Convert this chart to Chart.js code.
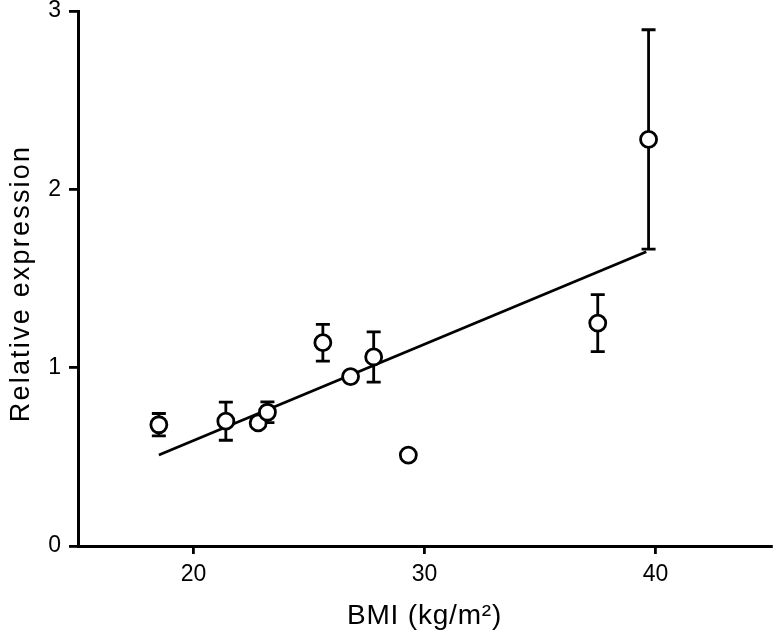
<!DOCTYPE html>
<html>
<head>
<meta charset="utf-8">
<script src="https://cdn.jsdelivr.net/npm/chart.js@4.4.1/dist/chart.umd.min.js"></script>
<style>
html, body { margin:0; padding:0; background:#fff; }
#wrap { width:774px; height:633px; }
</style>
</head>
<body>
<div id="wrap"><canvas id="bmiChart" width="774" height="633"></canvas></div>
<script>

/* data */
let bmiValues  = [18.5, 21.4, 22.8, 23.2, 25.6, 26.8, 27.8, 29.3, 37.5, 39.7];
let exprValues = [0.68, 0.70, 0.69, 0.75, 1.14, 0.95, 1.06, 0.51, 1.25, 2.28];
/* error (0 = no bar) */
let exprErrors = [0.063, 0.107, 0, 0.058, 0.103, 0, 0.141, 0, 0.16, 0.615];

/* regression line, two end points */
let fitX = [18.5, 39.6];
let fitY = [0.51, 1.65];

let xTicks = [20, 30, 40];
let yTicks = [0, 1, 2, 3];

let fontName = "'Liberation Sans', Arial, sans-serif";

/* error bars behind the open circles */
const errorBars = {

   id: "errorBars",

   beforeDatasetsDraw(chart){

      let ctx = chart.ctx;
      let xs = chart.scales.x;
      let ys = chart.scales.y;

      ctx.save();
      ctx.strokeStyle = "#000";
      ctx.lineWidth = 2.8;

      bmiValues.forEach(function(b, i){

         let err = exprErrors[i];

         if(!err) return;

         let px = xs.getPixelForValue(b);
         let top = ys.getPixelForValue(exprValues[i] + err);
         let bot = ys.getPixelForValue(exprValues[i] - err);

         ctx.beginPath();
         ctx.moveTo(px, top);
         ctx.lineTo(px, bot);
         ctx.moveTo(px - 7, top);
         ctx.lineTo(px + 7, top);
         ctx.moveTo(px - 7, bot);
         ctx.lineTo(px + 7, bot);
         ctx.stroke();

      });

      ctx.restore();

   }

};

/* the original titles are set a little wider than plain Arial */
function spreadTitle(scale, spacing, dx, dy){

   if(scale._spread) return;

   let orig = scale.drawTitle;

   scale.drawTitle = function(){
      this.ctx.save();
      this.ctx.letterSpacing = spacing;
      this.ctx.translate(dx, dy);
      orig.call(this);
      this.ctx.restore();
   };

   scale._spread = true;

}

let ctx = document.getElementById("bmiChart").getContext("2d");

new Chart(ctx, {

   type: "scatter",

   data: {

      datasets: [

         {
            type: "scatter",
            data: bmiValues.map((b, i) => ({ x: b, y: exprValues[i] })),
            pointRadius: 8,
            pointHoverRadius: 8,
            pointBackgroundColor: "#fff",
            pointBorderColor: "#000",
            pointBorderWidth: 2.8,
            order: 0
         },

         {
            type: "line",
            data: fitX.map((x, i) => ({ x: x, y: fitY[i] })),
            borderColor: "#000",
            borderWidth: 2.8,
            pointRadius: 0,
            fill: false,
            order: 1
         }

      ]

   },

   options: {

      responsive: false,
      animation: false,

      layout: {
         autoPadding: false,
         padding: { top: 11, right: 3, bottom: 0, left: 0 }
      },

      plugins: {
         legend: { display: false },
         tooltip: { enabled: false }
      },

      scales: {

         x: {

            type: "linear",
            min: 15,
            max: 45,

            afterBuildTicks: function(scale){
               scale.ticks = xTicks.map(v => ({ value: v }));
            },

            afterFit: function(scale){
               scale.height = 87;
               scale.paddingLeft = 0;
               scale.paddingRight = 0;
               spreadTitle(scale, "0.8px", 0, 0);
            },

            grid: {
               drawOnChartArea: false,
               drawTicks: true,
               tickLength: 8,
               color: "#000",
               lineWidth: 2.8
            },

            border: { display: true, color: "#000", width: 3 },

            ticks: {
               color: "#000",
               padding: 7,
               maxRotation: 0,
               font: { family: fontName, size: 23 }
            },

            title: {
               display: true,
               text: "BMI (kg/m²)",
               color: "#000",
               padding: { top: 0, bottom: 0 },
               font: { family: fontName, size: 28 }
            }

         },

         y: {

            min: 0,
            max: 3,

            afterBuildTicks: function(scale){
               scale.ticks = yTicks.map(v => ({ value: v }));
            },

            afterFit: function(scale){
               scale.width = 78;
               scale.paddingTop = 0;
               spreadTitle(scale, "2.2px", 0, 5);
            },

            grid: {
               drawOnChartArea: false,
               drawTicks: true,
               tickLength: 9,
               color: "#000",
               lineWidth: 2.8
            },

            border: { display: true, color: "#000", width: 3 },

            ticks: {
               color: "#000",
               padding: 8,
               font: { family: fontName, size: 23, lineHeight: 1 }
            },

            title: {
               display: true,
               text: "Relative expression",
               color: "#000",
               padding: { top: 5, bottom: 0 },
               font: { family: fontName, size: 27 }
            }

         }

      }

   },

   plugins: [errorBars]

});

</script>
</body>
</html>
